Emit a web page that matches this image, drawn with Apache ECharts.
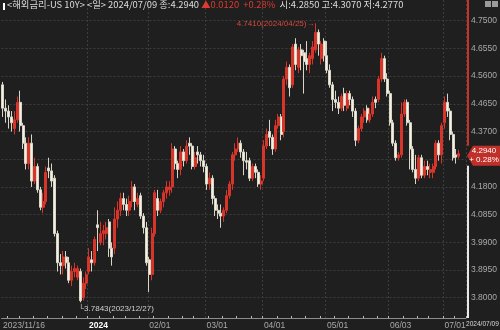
<!DOCTYPE html>
<html><head><meta charset="utf-8">
<script src="https://cdn.jsdelivr.net/npm/echarts@6/dist/echarts.min.js"></script>
<style>html,body{margin:0;padding:0;background:#1f1f1f;}#c{width:500px;height:330px;}</style>
</head><body><div id="c"></div>
<script>
const dates = [
"2023/11/16","2023/11/17","2023/11/20","2023/11/21","2023/11/22","2023/11/24","2023/11/27","2023/11/28","2023/11/29","2023/11/30",
"2023/12/01","2023/12/04","2023/12/05","2023/12/06","2023/12/07","2023/12/08","2023/12/11","2023/12/12","2023/12/13","2023/12/14","2023/12/15","2023/12/18","2023/12/19","2023/12/20","2023/12/21","2023/12/22","2023/12/26","2023/12/27","2023/12/28","2023/12/29",
"2024/01/02","2024/01/03","2024/01/04","2024/01/05","2024/01/08","2024/01/09","2024/01/10","2024/01/11","2024/01/12","2024/01/16","2024/01/17","2024/01/18","2024/01/19","2024/01/22","2024/01/23","2024/01/24","2024/01/25","2024/01/26","2024/01/29","2024/01/30","2024/01/31",
"2024/02/01","2024/02/02","2024/02/05","2024/02/06","2024/02/07","2024/02/08","2024/02/09","2024/02/12","2024/02/13","2024/02/14","2024/02/15","2024/02/16","2024/02/20","2024/02/21","2024/02/22","2024/02/23","2024/02/26","2024/02/27","2024/02/28","2024/02/29",
"2024/03/01","2024/03/04","2024/03/05","2024/03/06","2024/03/07","2024/03/08","2024/03/11","2024/03/12","2024/03/13","2024/03/14","2024/03/15","2024/03/18","2024/03/19","2024/03/20","2024/03/21","2024/03/22","2024/03/25","2024/03/26","2024/03/27","2024/03/28",
"2024/04/01","2024/04/02","2024/04/03","2024/04/04","2024/04/05","2024/04/08","2024/04/09","2024/04/10","2024/04/11","2024/04/12","2024/04/15","2024/04/16","2024/04/17","2024/04/18","2024/04/19","2024/04/22","2024/04/23","2024/04/24","2024/04/25","2024/04/26","2024/04/29","2024/04/30",
"2024/05/01","2024/05/02","2024/05/03","2024/05/06","2024/05/07","2024/05/08","2024/05/09","2024/05/10","2024/05/13","2024/05/14","2024/05/15","2024/05/16","2024/05/17","2024/05/20","2024/05/21","2024/05/22","2024/05/23","2024/05/24","2024/05/28","2024/05/29","2024/05/30","2024/05/31",
"2024/06/03","2024/06/04","2024/06/05","2024/06/06","2024/06/07","2024/06/10","2024/06/11","2024/06/12","2024/06/13","2024/06/14","2024/06/17","2024/06/18","2024/06/20","2024/06/21","2024/06/24","2024/06/25","2024/06/26","2024/06/27","2024/06/28",
"2024/07/01","2024/07/02","2024/07/03","2024/07/05","2024/07/08","2024/07/09"];

const opens = [
4.53,4.45,4.44,4.42,4.38,4.41,4.47,4.39,4.33,4.26,
4.33,4.20,4.25,4.17,4.11,4.13,4.245,4.235,4.21,4.02,3.92,3.91,3.94,3.92,3.86,3.89,3.87,3.89,3.80,3.85,
3.89,3.93,3.92,4.05,3.99,4.02,4.02,4.06,3.97,3.97,4.07,4.10,4.14,4.12,4.10,4.13,4.18,4.12,4.15,4.08,4.04,
3.93,3.88,4.02,4.14,4.10,4.13,4.16,4.17,4.18,4.31,4.26,4.24,4.30,4.27,4.33,4.32,4.25,4.30,4.29,4.27,
4.25,4.19,4.21,4.14,4.10,4.09,4.08,4.10,4.15,4.19,4.29,4.31,4.33,4.30,4.27,4.27,4.21,4.25,4.23,4.19,
4.21,4.32,4.37,4.35,4.31,4.39,4.42,4.37,4.55,4.59,4.53,4.67,4.59,4.65,4.64,4.62,4.60,4.62,4.65,4.71,4.62,4.68,
4.63,4.58,4.53,4.48,4.47,4.45,4.50,4.45,4.50,4.48,4.44,4.34,4.38,4.42,4.45,4.41,4.43,4.48,4.48,4.55,4.62,4.55,
4.50,4.40,4.33,4.28,4.29,4.43,4.47,4.40,4.31,4.24,4.21,4.28,4.22,4.25,4.23,4.23,4.25,4.33,4.29,
4.40,4.47,4.44,4.36,4.29,4.285];

const closes = [
4.45,4.44,4.42,4.40,4.41,4.47,4.39,4.33,4.26,4.33,
4.20,4.25,4.17,4.11,4.13,4.23,4.235,4.20,4.02,3.92,3.91,3.94,3.92,3.86,3.89,3.90,3.90,3.79,3.85,3.88,
3.94,3.92,4.00,4.04,4.02,4.03,4.04,3.97,3.94,4.07,4.10,4.14,4.12,4.10,4.13,4.18,4.13,4.14,4.08,4.04,3.92,
3.88,4.02,4.16,4.10,4.13,4.16,4.18,4.18,4.31,4.26,4.24,4.30,4.27,4.32,4.32,4.25,4.28,4.29,4.27,4.25,
4.19,4.21,4.14,4.10,4.09,4.08,4.10,4.15,4.19,4.29,4.31,4.33,4.30,4.27,4.265,4.21,4.25,4.23,4.19,4.20,
4.32,4.36,4.35,4.31,4.39,4.42,4.36,4.55,4.59,4.52,4.66,4.60,4.65,4.63,4.61,4.60,4.63,4.66,4.71,4.67,4.67,4.63,
4.58,4.53,4.48,4.47,4.45,4.49,4.46,4.50,4.48,4.44,4.34,4.38,4.42,4.44,4.41,4.43,4.47,4.47,4.55,4.62,4.55,4.50,
4.40,4.33,4.28,4.29,4.43,4.47,4.40,4.31,4.24,4.21,4.28,4.22,4.25,4.24,4.24,4.25,4.33,4.29,4.39,
4.47,4.44,4.36,4.28,4.282,4.294];

const lows = [
4.42,4.40,4.38,4.37,4.36,4.40,4.37,4.31,4.24,4.24,
4.18,4.19,4.16,4.10,4.09,4.12,4.21,4.18,4.01,3.89,3.88,3.88,3.90,3.85,3.84,3.87,3.86,3.7843,3.79,3.83,
3.88,3.89,3.91,3.96,3.98,3.98,4.00,3.94,3.91,3.95,4.04,4.08,4.10,4.08,4.08,4.11,4.10,4.11,4.07,4.02,3.91,
3.82,3.86,4.01,4.08,4.09,4.11,4.14,4.15,4.16,4.24,4.21,4.22,4.25,4.26,4.29,4.24,4.24,4.26,4.25,4.23,
4.17,4.17,4.12,4.08,4.07,4.04,4.06,4.09,4.14,4.17,4.27,4.30,4.28,4.22,4.24,4.20,4.20,4.21,4.18,4.17,
4.20,4.31,4.32,4.29,4.30,4.38,4.34,4.35,4.53,4.49,4.52,4.58,4.57,4.58,4.50,4.58,4.57,4.60,4.64,4.63,4.60,4.61,
4.57,4.52,4.44,4.45,4.43,4.44,4.44,4.44,4.46,4.42,4.32,4.33,4.37,4.40,4.40,4.40,4.42,4.45,4.47,4.54,4.54,4.49,
4.39,4.32,4.27,4.27,4.28,4.42,4.39,4.24,4.23,4.19,4.20,4.21,4.21,4.22,4.21,4.21,4.24,4.27,4.26,
4.38,4.42,4.34,4.27,4.26,4.277];

const highs = [
4.54,4.48,4.46,4.44,4.44,4.49,4.51,4.40,4.35,4.35,
4.36,4.28,4.26,4.18,4.16,4.25,4.28,4.26,4.22,4.03,3.95,3.96,3.96,3.94,3.91,3.92,3.91,3.90,3.87,3.89,
3.97,3.96,4.01,4.10,4.06,4.05,4.06,4.07,3.99,4.11,4.13,4.16,4.16,4.14,4.15,4.20,4.19,4.16,4.16,4.09,4.06,
3.94,4.04,4.17,4.17,4.14,4.17,4.20,4.20,4.33,4.32,4.27,4.32,4.31,4.34,4.35,4.33,4.30,4.32,4.30,4.29,
4.26,4.23,4.22,4.15,4.12,4.12,4.11,4.17,4.20,4.30,4.33,4.35,4.34,4.31,4.30,4.28,4.26,4.26,4.24,4.22,
4.34,4.38,4.41,4.36,4.41,4.43,4.43,4.56,4.61,4.60,4.67,4.69,4.66,4.67,4.65,4.68,4.64,4.68,4.741,4.72,4.68,4.69,
4.68,4.60,4.54,4.51,4.49,4.50,4.52,4.51,4.51,4.49,4.45,4.39,4.43,4.45,4.46,4.45,4.49,4.49,4.56,4.64,4.63,4.57,
4.51,4.41,4.34,4.30,4.47,4.48,4.48,4.41,4.32,4.29,4.29,4.29,4.27,4.27,4.26,4.26,4.34,4.34,4.40,
4.49,4.50,4.45,4.37,4.31,4.307];

const yTicks = [3.8, 3.895, 3.99, 4.085, 4.18, 4.275, 4.37, 4.465, 4.56, 4.655, 4.75];
const xLabelDates = ["2023/11/16","2024/01/02","2024/02/01","2024/03/01","2024/04/01","2024/05/01","2024/06/03","2024/07/01"];
const xLabelTexts = ["2023/11/16","2024","02/01","03/01","04/01","05/01","06/03","07/01"];
const titleName = "<해외금리-US 10Y> <일>";

const UP = '#d8352a', DOWN = '#f3f0e2';
const G = {left: 0, top: 0, width: 468, height: 318};
const F = '"Liberation Sans", Arial, sans-serif';

const cats = dates.concat([' ', '  ']);
const n = dates.length;
const candle = dates.map((d, i) => [opens[i], closes[i], lows[i], highs[i]]);
let maxI = 0, minI = 0;
highs.forEach((v, i) => { if (v > highs[maxI]) maxI = i; });
lows.forEach((v, i) => { if (v < lows[minI]) minI = i; });
const labelIdx = xLabelDates.map(d => dates.indexOf(d));
const dow = d => new Date(d).getDay();

const chart = echarts.init(document.getElementById('c'), null, {renderer: 'canvas'});
chart.setOption({
  backgroundColor: '#1f1f1f',
  animation: false,
  grid: G,
  xAxis: {
    type: 'category', data: cats, boundaryGap: true,
    axisLine: {show: true, lineStyle: {color: '#8c8c8c', width: 1}},
    axisTick: {show: true, inside: true, length: 2, lineStyle: {color: '#bdbdbd'},
      interval: (i) => i > 0 && i < n && dow(dates[i]) < dow(dates[i - 1])},
    axisLabel: {
      interval: (i) => labelIdx.indexOf(i) >= 0,
      formatter: (v, i) => { const k = labelIdx.indexOf(i); if (k < 0) return ''; return k === 1 ? '{b|' + xLabelTexts[k] + '}' : xLabelTexts[k]; },
      align: 'left', margin: 3, color: '#a9a9a9', fontSize: 8.5, fontFamily: F,
      rich: {b: {color: '#ffffff', fontWeight: 'bold', fontSize: 8.5, fontFamily: F}}
    },
    splitLine: {show: true, interval: (i) => labelIdx.indexOf(i) > 0,
      lineStyle: {color: '#3d3d3d', type: [2, 2], width: 1}}
  },
  yAxis: {
    type: 'value', position: 'right', scale: true,
    min: 3.7305, max: 4.821,
    axisLine: {show: false},
    axisTick: {show: false, customValues: yTicks},
    axisLabel: {customValues: yTicks, formatter: v => v.toFixed(4), color: '#a9a9a9', fontSize: 8.5, fontFamily: F, margin: 5},
    splitLine: {show: true, lineStyle: {color: '#3d3d3d', type: [2, 2], width: 1}}
  },
  series: [{
    type: 'candlestick', data: candle, barWidth: 2.5,
    itemStyle: {color: UP, color0: DOWN, borderColor: UP, borderColor0: '#d9d6c8', borderWidth: 1},
    markPoint: {
      symbol: 'circle', symbolSize: 0, animation: false,
      data: [
        {coord: [dates[maxI], highs[maxI]], label: {show: true, position: 'left', distance: 1, color: '#d9483a', fontSize: 8, fontFamily: F,
          formatter: highs[maxI].toFixed(4) + '(' + dates[maxI] + ')→'}},
        {coord: [dates[minI], lows[minI]], label: {show: true, position: 'right', distance: 0, offset: [-2, 6], color: '#d0d0d0', fontSize: 8, fontFamily: F,
          formatter: '└' + lows[minI].toFixed(4) + '(' + dates[minI] + ')'}}
      ]
    }
  }]
});

// decorations derived from the scales
const last = n - 1;
const gx = G.left + G.width;
const yc = chart.convertToPixel({yAxisIndex: 0}, closes[last]) + 2;
const chg = closes[last] - closes[last - 1];
const pct = chg / closes[last - 1] * 100;
const tagH = 20;
chart.setOption({
  graphic: [
    {type: 'line', shape: {x1: gx, y1: 0, x2: gx, y2: yc - tagH / 2}, style: {stroke: '#c8322a', lineWidth: 2}, z: 50},
    {type: 'line', shape: {x1: gx, y1: yc + tagH / 2, x2: gx, y2: G.top + G.height}, style: {stroke: '#e8e8e8', lineWidth: 2}, z: 50},
    {type: 'polygon', shape: {points: [[gx - 1, yc], [gx + 5, yc - tagH / 2], [500, yc - tagH / 2], [500, yc + tagH / 2], [gx + 5, yc + tagH / 2]]},
      style: {fill: '#c0302a'}, z: 60},
    {type: 'text', x: 484, y: yc - 9, style: {text: closes[last].toFixed(4) + '\n' + (chg >= 0 ? '+ ' : '') + pct.toFixed(2) + '%',
      fill: '#ffffff', font: '8px ' + F, align: 'center', lineHeight: 9}, z: 61},
    {type: 'text', x: 466, y: 320, scaleX: 0.82, scaleY: 1, originX: 0, originY: 0,
      style: {text: dates[last], fill: '#d8d8d8', fontSize: 8, fontFamily: F}, z: 61},
    {type: 'rect', shape: {x: 3, y: 3, width: 2, height: 7}, style: {fill: '#ffffff'}, z: 61},
    {type: 'text', x: 7, y: 0, z: 61, style: {
      text: '{t|' + titleName + ' ' + dates[last] + ' 종:' + closes[last].toFixed(4) + ' }{r|▲' + Math.abs(chg).toFixed(4) + '  ' + (chg >= 0 ? '+' : '') + pct.toFixed(2) + '%}{t|  시:' + opens[last].toFixed(4) + ' 고:' + highs[last].toFixed(4) + ' 저:' + lows[last].toFixed(4) + '}',
      rich: {t: {fill: '#dcdcdc', fontSize: 9.4, fontFamily: '"Noto Sans CJK KR", sans-serif'}, r: {fill: '#e0392e', fontSize: 9.4, fontFamily: '"Noto Sans CJK KR", sans-serif'}}}},
    {type: 'rect', shape: {x: 485, y: 1, width: 6, height: 6}, style: {fill: '#9a9a9a'}, z: 61},
    {type: 'rect', shape: {x: 492, y: 1, width: 6, height: 6}, style: {fill: '#9a9a9a'}, z: 61}
  ]
});
</script></body></html>
